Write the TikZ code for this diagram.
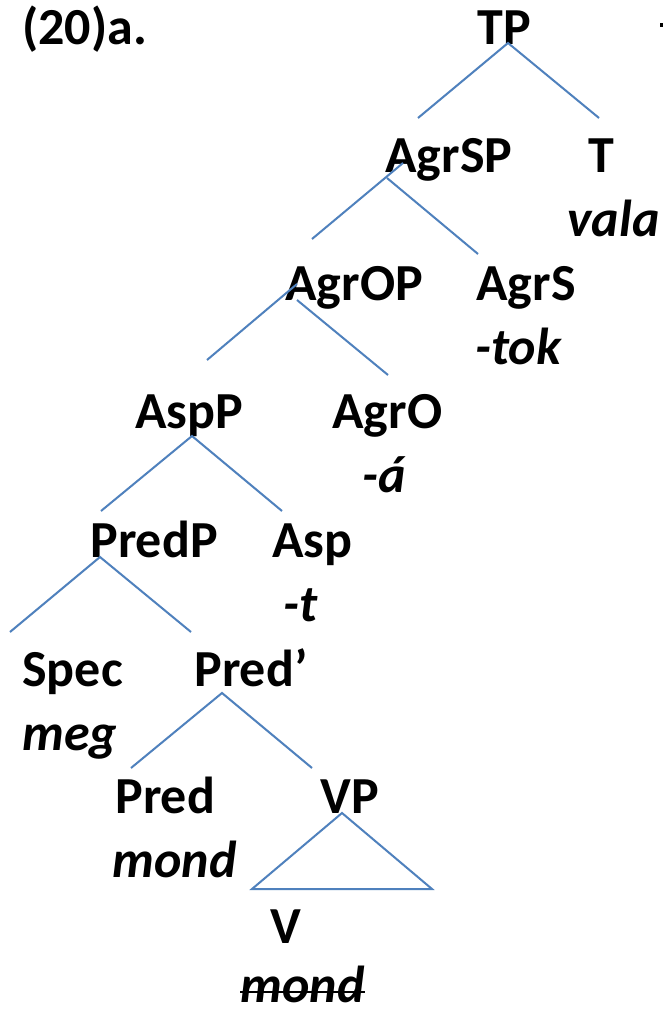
\documentclass[tikz,border=0pt]{standalone}
\usepackage{fontspec}
\setmainfont{Carlito}
\begin{document}
\begin{tikzpicture}[x=0.5pt,y=-0.5pt,
  lab/.style={anchor=base west,inner sep=0pt,font=\fontsize{26}{30}\selectfont\bfseries},
  wrd/.style={anchor=base west,inner sep=0pt,font=\fontsize{26}{30}\selectfont\bfseries\itshape},
  br/.style={line width=1pt,color={rgb,255:red,79;green,129;blue,189}}]
\useasboundingbox (0,0) rectangle (663,1010);
\fill[white] (0,0) rectangle (663,1010);
\node[lab] (ex) at (22,45) {(20)a.};
\node[lab] (tp) at (477,45) {TP};
\node[lab] (agrsp) at (385,173) {AgrSP};
\node[lab] (t) at (588,173) {T};
\node[wrd] (vala) at (567,237) {vala};
\node[lab] (agrop) at (285,300) {AgrOP};
\node[lab] (agrs) at (476,300) {AgrS};
\node[wrd] (tok) at (475,364) {-tok};
\node[lab] (aspp) at (135,428) {AspP};
\node[lab] (agro) at (332,428) {AgrO};
\node[wrd] (aa) at (362,492) {-á};
\node[lab] (predp) at (90,557) {PredP};
\node[lab] (asp) at (272,557) {Asp};
\node[wrd] (tt) at (283,621) {-t};
\node[lab] (spec) at (22,686) {Spec};
\node[wrd] (meg) at (22,750) {meg};
\node[lab] (predbar) at (194,686) {Pred’};
\node[lab] (pred) at (115,813) {Pred};
\node[wrd] (mond) at (112,877) {mond};
\node[lab] (vp) at (320,813) {VP};
\node[lab] (v) at (270,943) {V};
\node[wrd] (mond2) at (240,1002) {mond};
\draw[line width=1.3pt] ([yshift=5pt]mond2.base west) -- ([yshift=5pt]mond2.base east);
\fill (660,23) rectangle (663,27);
% branches
\coordinate (tpA) at (508,43);
\coordinate (tpL) at (418,118);
\coordinate (tpR) at (599,118);
\draw[br] (tpL) -- (tpA) -- (tpR);
\coordinate (sA1) at (403,163);
\coordinate (sL) at (312,239);
\coordinate (sA2) at (387,178);
\coordinate (sR) at (478,254);
\draw[br] (sA1) -- (sL);
\draw[br] (sA2) -- (sR);
\coordinate (oA1) at (297,284);
\coordinate (oL) at (207,360);
\coordinate (oA2) at (297,300);
\coordinate (oR) at (388,375);
\draw[br] (oA1) -- (oL);
\draw[br] (oA2) -- (oR);
\coordinate (aA) at (192,436);
\coordinate (aL) at (101,511);
\coordinate (aR) at (282,511);
\draw[br] (aL) -- (aA) -- (aR);
\coordinate (pA) at (100,557);
\coordinate (pL) at (10,632);
\coordinate (pR) at (191,632);
\draw[br] (pL) -- (pA) -- (pR);
\coordinate (bA) at (222,693);
\coordinate (bL) at (131,768);
\coordinate (bR) at (312,768);
\draw[br] (bL) -- (bA) -- (bR);
\coordinate (vA) at (342,813);
\coordinate (vL) at (252,889);
\coordinate (vR) at (432,889);
\draw[br] (vA) -- (vL) -- (vR) -- cycle;
\end{tikzpicture}
\end{document}
